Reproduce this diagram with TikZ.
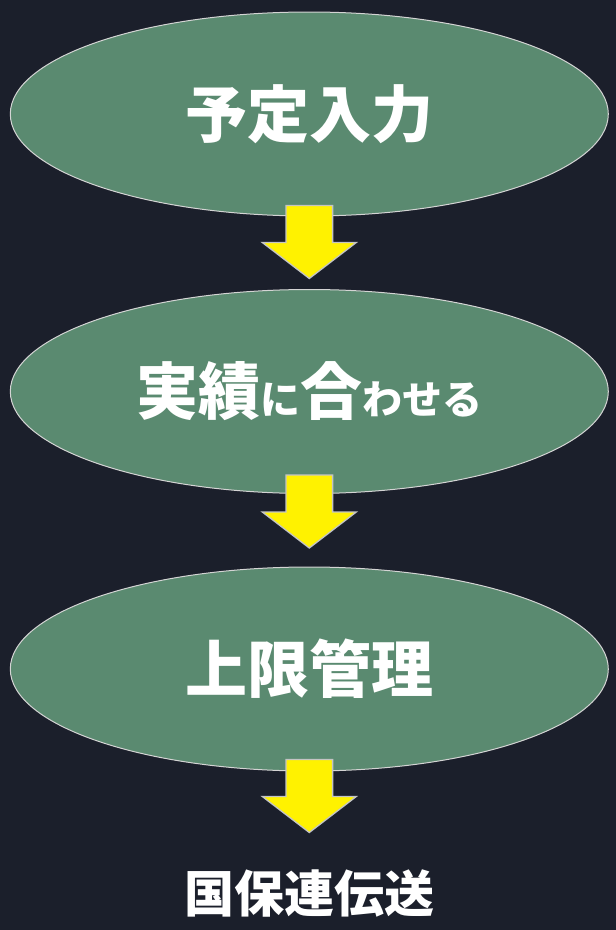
\documentclass[tikz,border=0pt]{standalone}
\usepackage{fontspec}
\newfontfamily\jp{Noto Sans CJK JP}
\usetikzlibrary{shapes.geometric,calc}
\definecolor{bgcol}{HTML}{1B1F2B}
\definecolor{ellfill}{HTML}{5A8A70}
\definecolor{ellline}{HTML}{D4D4D4}
\definecolor{arrline}{HTML}{C4C4C4}
\tikzset{
  stage/.style={ellipse, draw=ellline, line width=1pt, fill=ellfill,
    minimum width=598pt, minimum height=204pt, inner sep=0pt,
    text=white, font=\jp\bfseries\fontsize{62}{70}\selectfont},
  lasttext/.style={inner sep=0pt, text=white, font=\jp\bfseries\fontsize{50}{56}\selectfont},
  blockarrow/.pic={
    \draw[draw=arrline, line width=1.3pt, fill=yellow, line join=miter]
      (-23.3,0) -- (23.3,0) -- (23.3,37) -- (47,37) -- (0,73) -- (-47,37) -- (-23.3,37) -- cycle;
  }
}
\begin{document}
\begin{tikzpicture}[x=1pt,y=-1pt]
\useasboundingbox[fill=bgcol] (0,0) rectangle (616,930);
\node[stage] (e1) at (309.3,114) {予定入力};
\node[stage] (e2) at (309.3,391.5) {実績{\fontsize{40}{48}\selectfont に}合{\fontsize{40}{48}\selectfont わせる}};
\node[stage] (e3) at (309.3,669) {上限管理};
\node[lasttext] (e4) at (309.3,893) {国保連伝送};
\pic at ($(e1.south)+(0,-11)$) {blockarrow};
\pic at ($(e2.south)+(0,-19)$) {blockarrow};
\pic at ($(e3.south)+(0,-12)$) {blockarrow};
\end{tikzpicture}
\end{document}
